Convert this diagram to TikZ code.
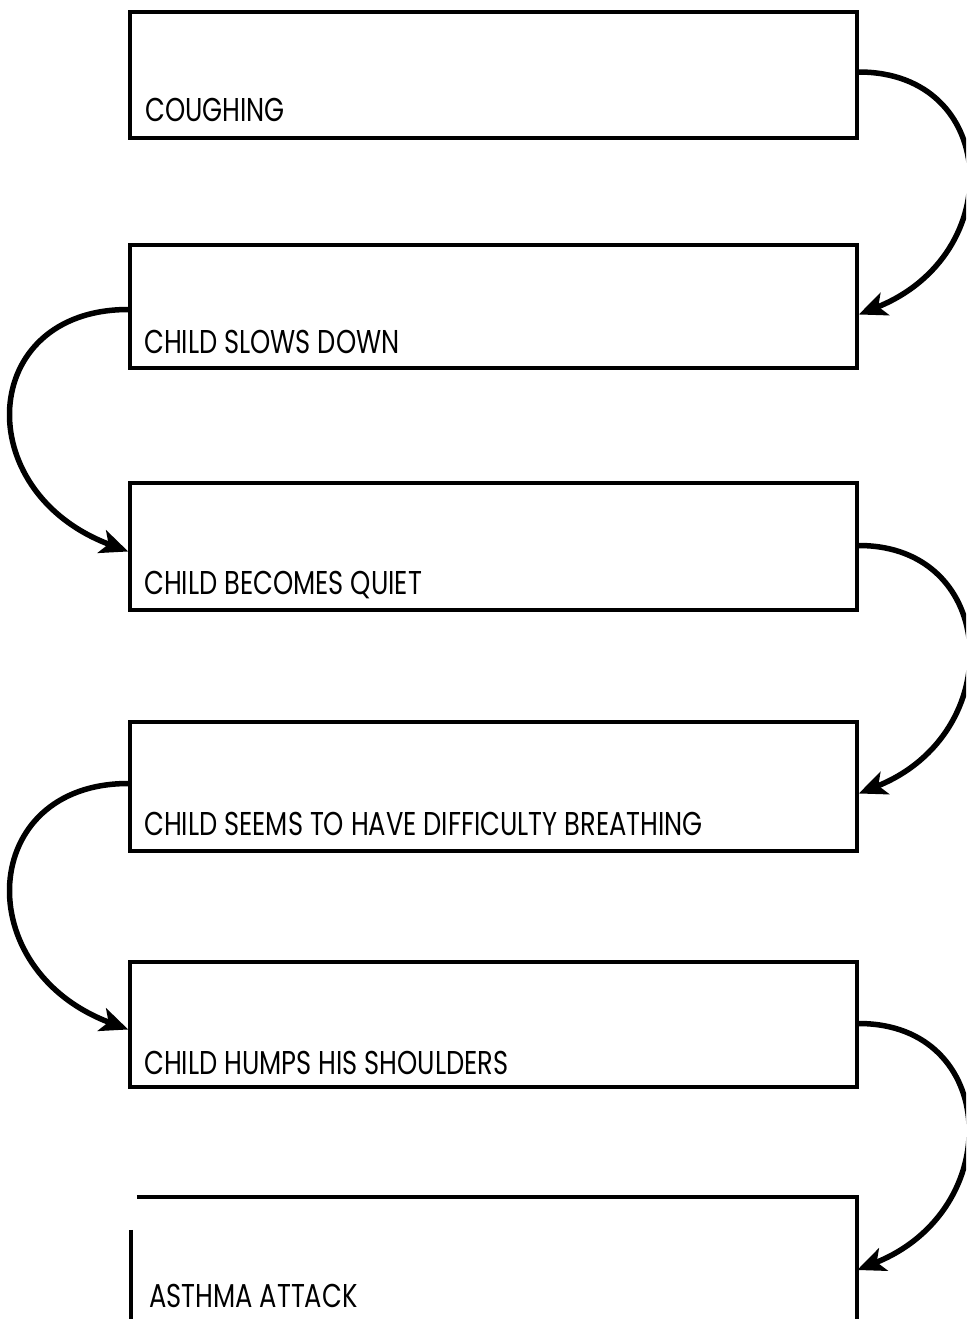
\documentclass[tikz,border=0pt]{standalone}
\usepackage{fontspec}
\setmainfont{Poppins}[FakeStretch=0.78]
\usetikzlibrary{arrows.meta}
\begin{document}
\begin{tikzpicture}[x=1pt,y=-1pt,
  stage/.style={draw=black,line width=3.5pt,rectangle,inner sep=0pt},
  stagetext/.style={anchor=base west,inner sep=0pt,font=\fontsize{33}{33}\selectfont},
  flow/.style={line width=5.5pt,-{Stealth[length=28pt,width=24pt,inset=7pt]}}]
\useasboundingbox (0,0) rectangle (966,1319);
\clip (0,0) rectangle (966,1319);
\fill[white] (0,0) rectangle (966,1319);

% the stages, from top to bottom
\node[stage,minimum width=727pt,minimum height=126pt] (b1) at (493.5,75) {};
\node[stage,minimum width=727pt,minimum height=123pt] (b2) at (493.5,306.5) {};
\node[stage,minimum width=727pt,minimum height=127pt] (b3) at (493.5,546.5) {};
\node[stage,minimum width=727pt,minimum height=129pt] (b4) at (493.5,786.5) {};
\node[stage,minimum width=727pt,minimum height=125pt] (b5) at (493.5,1024.5) {};
\node[rectangle,inner sep=0pt,minimum width=726pt,minimum height=140pt] (b6) at (494,1267) {};
% last box runs off the bottom edge, with a break at its upper left corner
\draw[line width=3.5pt] ([xshift=6pt]b6.north west) -- (b6.north east) -- (b6.south east);
\draw[line width=3.5pt] ([yshift=-33pt]b6.north west) -- (b6.south west);

\node[stagetext] (t1) at (145,122) {COUGHING};
\node[stagetext] (t2) at (144,353) {CHILD SLOWS DOWN};
\node[stagetext] (t3) at (144,594) {CHILD BECOMES QUIET};
\node[stagetext] (t4) at (144,835) {CHILD SEEMS TO HAVE DIFFICULTY BREATHING};
\node[stagetext] (t5) at (144,1074) {CHILD HUMPS HIS SHOULDERS};
\node[stagetext] (t6) at (149,1307) {ASTHMA ATTACK};

% connectors, alternating right and left
\draw[flow] ([yshift=3pt]b1.east) .. controls +(140,0) and +(150,-60) .. ([yshift=-8pt]b2.east);
\draw[flow] ([yshift=-3pt]b2.west) .. controls +(-150,0) and +(-160,-60) .. ([yshift=-5pt]b3.west);
\draw[flow] ([yshift=1pt]b3.east) .. controls +(140,0) and +(150,-60) .. ([yshift=-7pt]b4.east);
\draw[flow] ([yshift=3pt]b4.west) .. controls +(-150,0) and +(-160,-60) .. ([yshift=-5pt]b5.west);
\draw[flow] ([yshift=1pt]b5.east) .. controls +(140,0) and +(150,-60) .. (b6.north east |- 0,1270);
\end{tikzpicture}
\end{document}
